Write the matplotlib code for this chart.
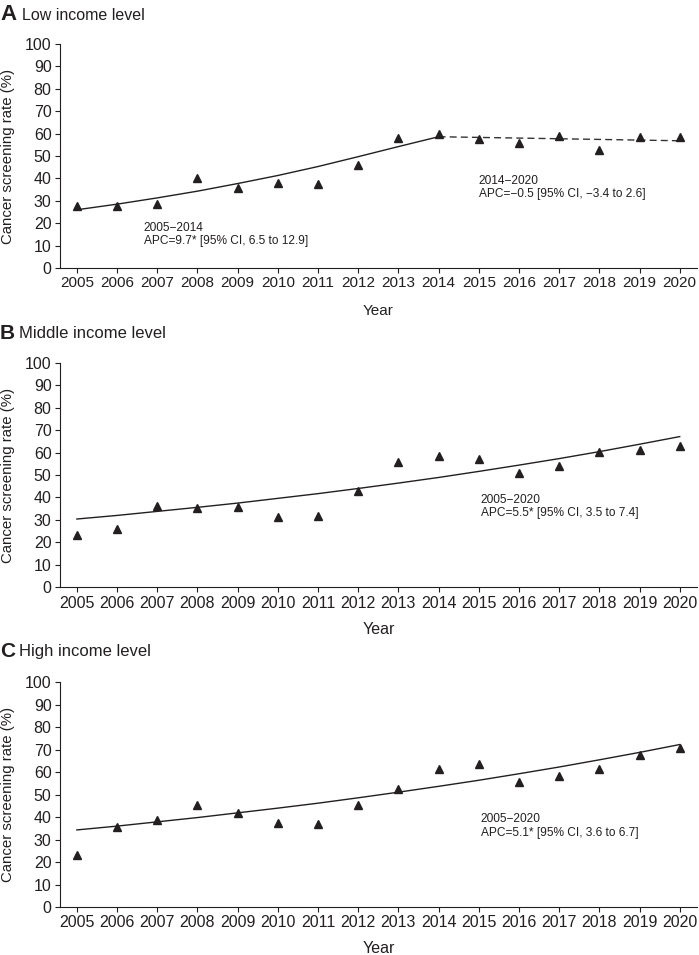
import matplotlib
matplotlib.use('Agg')
import matplotlib.pyplot as plt
from matplotlib import font_manager

# data
years = list(range(2005, 2021))
low_rate = [27.5, 27.9, 28.4, 40.1, 35.7, 37.9, 37.6, 45.8, 57.9, 59.7, 57.5, 56.0, 59.1, 52.5, 58.7, 58.4]
low_fit_years1 = list(range(2005, 2015))
low_fit1 = [26.0, 28.5, 31.3, 34.3, 37.7, 41.3, 45.3, 49.7, 54.2, 58.6]
low_fit_years2 = list(range(2014, 2021))
low_fit2 = [58.6, 58.3, 58.0, 57.7, 57.4, 57.1, 56.8]

mid_rate = [23.3, 26.0, 36.4, 35.5, 35.6, 31.5, 31.8, 42.9, 55.6, 58.3, 57.3, 50.7, 54.0, 60.2, 61.0, 63.1]
mid_fit = [30.4, 32.0, 33.8, 35.6, 37.5, 39.6, 41.7, 44.0, 46.4, 48.9, 51.6, 54.4, 57.3, 60.4, 63.7, 67.1]

high_rate = [23.1, 35.5, 38.7, 45.4, 42.0, 37.2, 36.8, 45.4, 52.4, 61.6, 63.6, 55.8, 58.3, 61.3, 67.8, 70.9]
high_fit = [34.3, 36.0, 37.9, 39.8, 41.9, 44.0, 46.2, 48.6, 51.1, 53.7, 56.4, 59.3, 62.3, 65.5, 68.8, 72.3]

INK = '#231f20'
names = {f.name for f in font_manager.fontManager.ttflist}
REG = 'Liberation Sans'
if 'Liberation Sans Narrow' in names:
    NARROW = 'Liberation Sans Narrow'
    nscale = 1.15
else:
    NARROW = 'Liberation Sans'
    nscale = 1.0

W, H = 699, 955
fig = plt.figure(figsize=(W / 100, H / 100), dpi=100)


def px_axes(top, bottom):
    return fig.add_axes([60 / W, 1 - bottom / H, 637 / W, (bottom - top) / H])


def setup(ax, xfont, xsize):
    ax.set_xlim(2004.58, 2020.43)
    ax.set_ylim(0, 100)
    for s in ['top', 'right']:
        ax.spines[s].set_visible(False)
    for s in ['left', 'bottom']:
        ax.spines[s].set_linewidth(0.8)
        ax.spines[s].set_color(INK)
    ax.set_xticks(years)
    ax.set_yticks(range(0, 101, 10))
    ax.tick_params(direction='out', length=3.6, width=0.8, color=INK, labelcolor=INK, pad=2.5)
    for lab in ax.get_yticklabels():
        lab.set_fontfamily(REG)
        lab.set_fontsize(11.5)
    for lab in ax.get_xticklabels():
        lab.set_fontfamily(xfont)
        lab.set_fontsize(xsize)
    ax.text(-0.081, 0.5, 'Cancer screening rate (%)', transform=ax.transAxes, rotation=90,
            ha='center', va='center', fontsize=10.8, family=REG, color=INK)


def title(y, letter, label, font, lsize, tsize, lx):
    fig.text(0 / W, 1 - y / H, letter, fontsize=lsize, fontweight='bold', family=font,
             ha='left', va='center', color=INK)
    fig.text(lx / W, 1 - y / H, label, fontsize=tsize, family=font, ha='left', va='center', color=INK)


# A
ax = px_axes(44, 268)
setup(ax, REG, 11)
ax.plot(years, low_rate, '^', ms=6, color=INK, zorder=3)
ax.plot(low_fit_years1, low_fit1, '-', lw=1.0, color=INK)
ax.plot(low_fit_years2, low_fit2, '--', lw=1.0, color='#333333', dashes=(5, 3))
ax.text(2006.66, 15.0, '2005\u22122014\nAPC=9.7* [95% CI, 6.5 to 12.9]', fontsize=8.6, family=REG,
        ha='left', va='center', color=INK, linespacing=1.2)
ax.text(2015.0, 35.9, '2014\u22122020\nAPC=\u22120.5 [95% CI, \u22123.4 to 2.6]', fontsize=8.6, family=REG,
        ha='left', va='center', color=INK, linespacing=1.2)
ax.text(0.5, -0.19, 'Year', transform=ax.transAxes, ha='center', va='center', fontsize=11, family=REG, color=INK)
title(15, 'A', 'Low income level', REG, 16, 11.5, 22)

# B
ax = px_axes(362.7, 587.3)
setup(ax, NARROW, 11.5 * nscale)
ax.plot(years, mid_rate, '^', ms=6, color=INK, zorder=3)
ax.plot(years, mid_fit, '-', lw=1.0, color=INK)
ax.text(2015.05, 36.0, '2005\u22122020\nAPC=5.5* [95% CI, 3.5 to 7.4]', fontsize=8.6 * nscale, family=NARROW,
        ha='left', va='center', color=INK, linespacing=1.2)
ax.text(0.5, -0.19, 'Year', transform=ax.transAxes, ha='center', va='center', fontsize=11.5 * nscale,
        family=NARROW, color=INK)
title(333, 'B', 'Middle income level', NARROW, 15 * nscale, 12 * nscale, 19)

# C
ax = px_axes(682.3, 907)
setup(ax, NARROW, 11.5 * nscale)
ax.plot(years, high_rate, '^', ms=6, color=INK, zorder=3)
ax.plot(years, high_fit, '-', lw=1.0, color=INK)
ax.text(2015.05, 36.0, '2005\u22122020\nAPC=5.1* [95% CI, 3.6 to 6.7]', fontsize=8.6 * nscale, family=NARROW,
        ha='left', va='center', color=INK, linespacing=1.2)
ax.text(0.5, -0.183, 'Year', transform=ax.transAxes, ha='center', va='center', fontsize=11.5 * nscale,
        family=NARROW, color=INK)
title(651.7, 'C', 'High income level', NARROW, 15 * nscale, 12 * nscale, 19)

fig.savefig('out.png', dpi=100)
